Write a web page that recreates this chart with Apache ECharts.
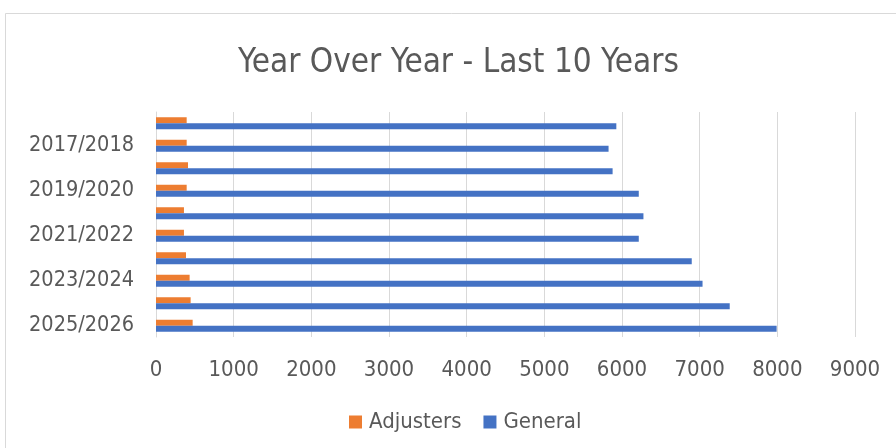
<!DOCTYPE html>
<html>
<head>
<meta charset="utf-8">
<script src="https://cdn.jsdelivr.net/npm/echarts@6/dist/echarts.min.js"></script>
<style>
html,body{margin:0;padding:0;background:#fff;}
#c{width:896px;height:448px;}
</style>
</head>
<body>
<div id="c"></div>
<script>
// categories listed bottom to top
const categories = ['2025/2026','2024/2025','2023/2024','2022/2023','2021/2022','2020/2021','2019/2020','2018/2019','2017/2018','2016/2017'];
const adjusters = [472, 446, 433, 386, 360, 360, 395, 412, 395, 395];
const general = [7991, 7387, 7037, 6898, 6216, 6276, 6216, 5879, 5827, 5927];
const xTicks = [0, 9000, 1000];
const seriesNames = ['Adjusters', 'General'];

const FONT = "'Liberation Sans Narrow','DejaVu Sans Condensed','Liberation Sans',sans-serif";
const chart = echarts.init(document.getElementById('c'), null, {renderer: 'canvas'});
chart.setOption({
  animation: false,
  backgroundColor: '#ffffff',
  textStyle: {fontFamily: FONT},
  graphic: [{
    type: 'rect', silent: true, z: -1,
    shape: {x: 5.5, y: 13.5, width: 900, height: 460},
    style: {fill: 'none', stroke: '#d9d9d9', lineWidth: 1}
  }],
  title: {
    text: 'Year Over Year - Last 10 Years',
    left: 233,
    top: 42,
    textStyle: {fontFamily: FONT, fontSize: 33, fontWeight: 'normal', color: '#595959'}
  },
  legend: {
    data: seriesNames,
    left: 349,
    top: 411,
    padding: 0,
    itemWidth: 13,
    itemHeight: 13,
    itemGap: 22,
    icon: 'rect',
    textStyle: {fontFamily: FONT, fontSize: 22, color: '#595959', padding: [0, 0, 0, 2]}
  },
  grid: {left: 156, right: 41, top: 112, height: 225, containLabel: false},
  xAxis: {
    type: 'value',
    min: xTicks[0], max: xTicks[1], interval: xTicks[2],
    axisLine: {show: false},
    axisTick: {show: false},
    splitLine: {show: true, lineStyle: {color: '#d9d9d9', width: 1}},
    axisLabel: {fontFamily: FONT, fontSize: 22, color: '#595959', margin: 22, formatter: v => String(v)}
  },
  yAxis: {
    type: 'category',
    data: categories,
    axisTick: {show: false},
    axisLine: {show: true, lineStyle: {color: '#d9d9d9', width: 1}},
    axisLabel: {interval: 1, fontFamily: FONT, fontSize: 21.5, color: '#595959', margin: 22}
  },
  series: [
    {name: seriesNames[0], type: 'bar', data: adjusters, barWidth: 6, barGap: '0%', itemStyle: {color: '#ED7D31'}},
    {name: seriesNames[1], type: 'bar', data: general, barWidth: 6, barGap: '0%', itemStyle: {color: '#4472C4'}}
  ]
});
</script>
</body>
</html>
